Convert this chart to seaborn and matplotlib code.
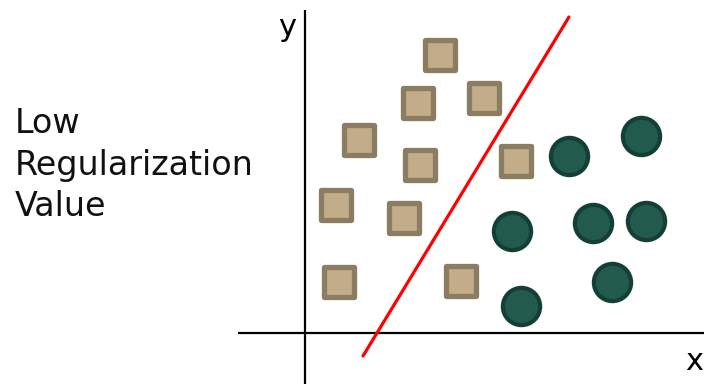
import pandas as pd
import matplotlib.pyplot as plt
import seaborn as sns

# Class A points (squares), coordinates relative to the axis origin
square_x = [135, 113, 179, 54, 115, 211, 31, 99, 34, 156]
square_y = [278, 230, 235, 193, 168, 172, 128, 115, 51, 52]

# Class B points (circles)
circle_x = [264, 336, 207, 288, 341, 307, 216]
circle_y = [177, 197, 102, 110, 112, 51, 27]

# Decision boundary end points
line_x = [58, 264]
line_y = [-23, 316]

squares = pd.DataFrame({'x': square_x, 'y': square_y})
circles = pd.DataFrame({'x': circle_x, 'y': circle_y})
boundary = pd.DataFrame({'x': line_x, 'y': line_y})

sns.set_theme(style='white')
plt.rcParams['font.family'] = ['DejaVu Sans']

fig = plt.figure(figsize=(7.04, 3.84), dpi=100)
ax = fig.add_axes([0, 0, 1, 1])
ax.set_xlim(-305, 399)
ax.set_ylim(-51, 333)
ax.axis('off')

# axes of the diagram
ax.plot([0, 0], [-51, 323], color='black', lw=1.6, solid_capstyle='butt')
ax.plot([-67, 399], [0, 0], color='black', lw=1.6, solid_capstyle='butt')

sns.lineplot(data=boundary, x='x', y='y', color='#FF0000', lw=2.3, ax=ax)

sns.scatterplot(data=squares, x='x', y='y', marker='s', s=450,
                color='#C2AC8A', edgecolor='#8B7D62', linewidth=3.8,
                joinstyle='round', ax=ax, zorder=3)
sns.scatterplot(data=circles, x='x', y='y', marker='o', s=720,
                color='#225A4E', edgecolor='#143F36', linewidth=3.0,
                ax=ax, zorder=3)

ax.text(-18, 305, 'y', fontsize=22, color='black', ha='center', va='center')
ax.text(389, -29, 'x', fontsize=22, color='black', ha='center', va='center')
ax.text(-290, 168, 'Low\nRegularization\nValue', fontsize=24, color='#111111',
        ha='left', va='center', linespacing=1.32)

fig.savefig('out.png', dpi=100)
